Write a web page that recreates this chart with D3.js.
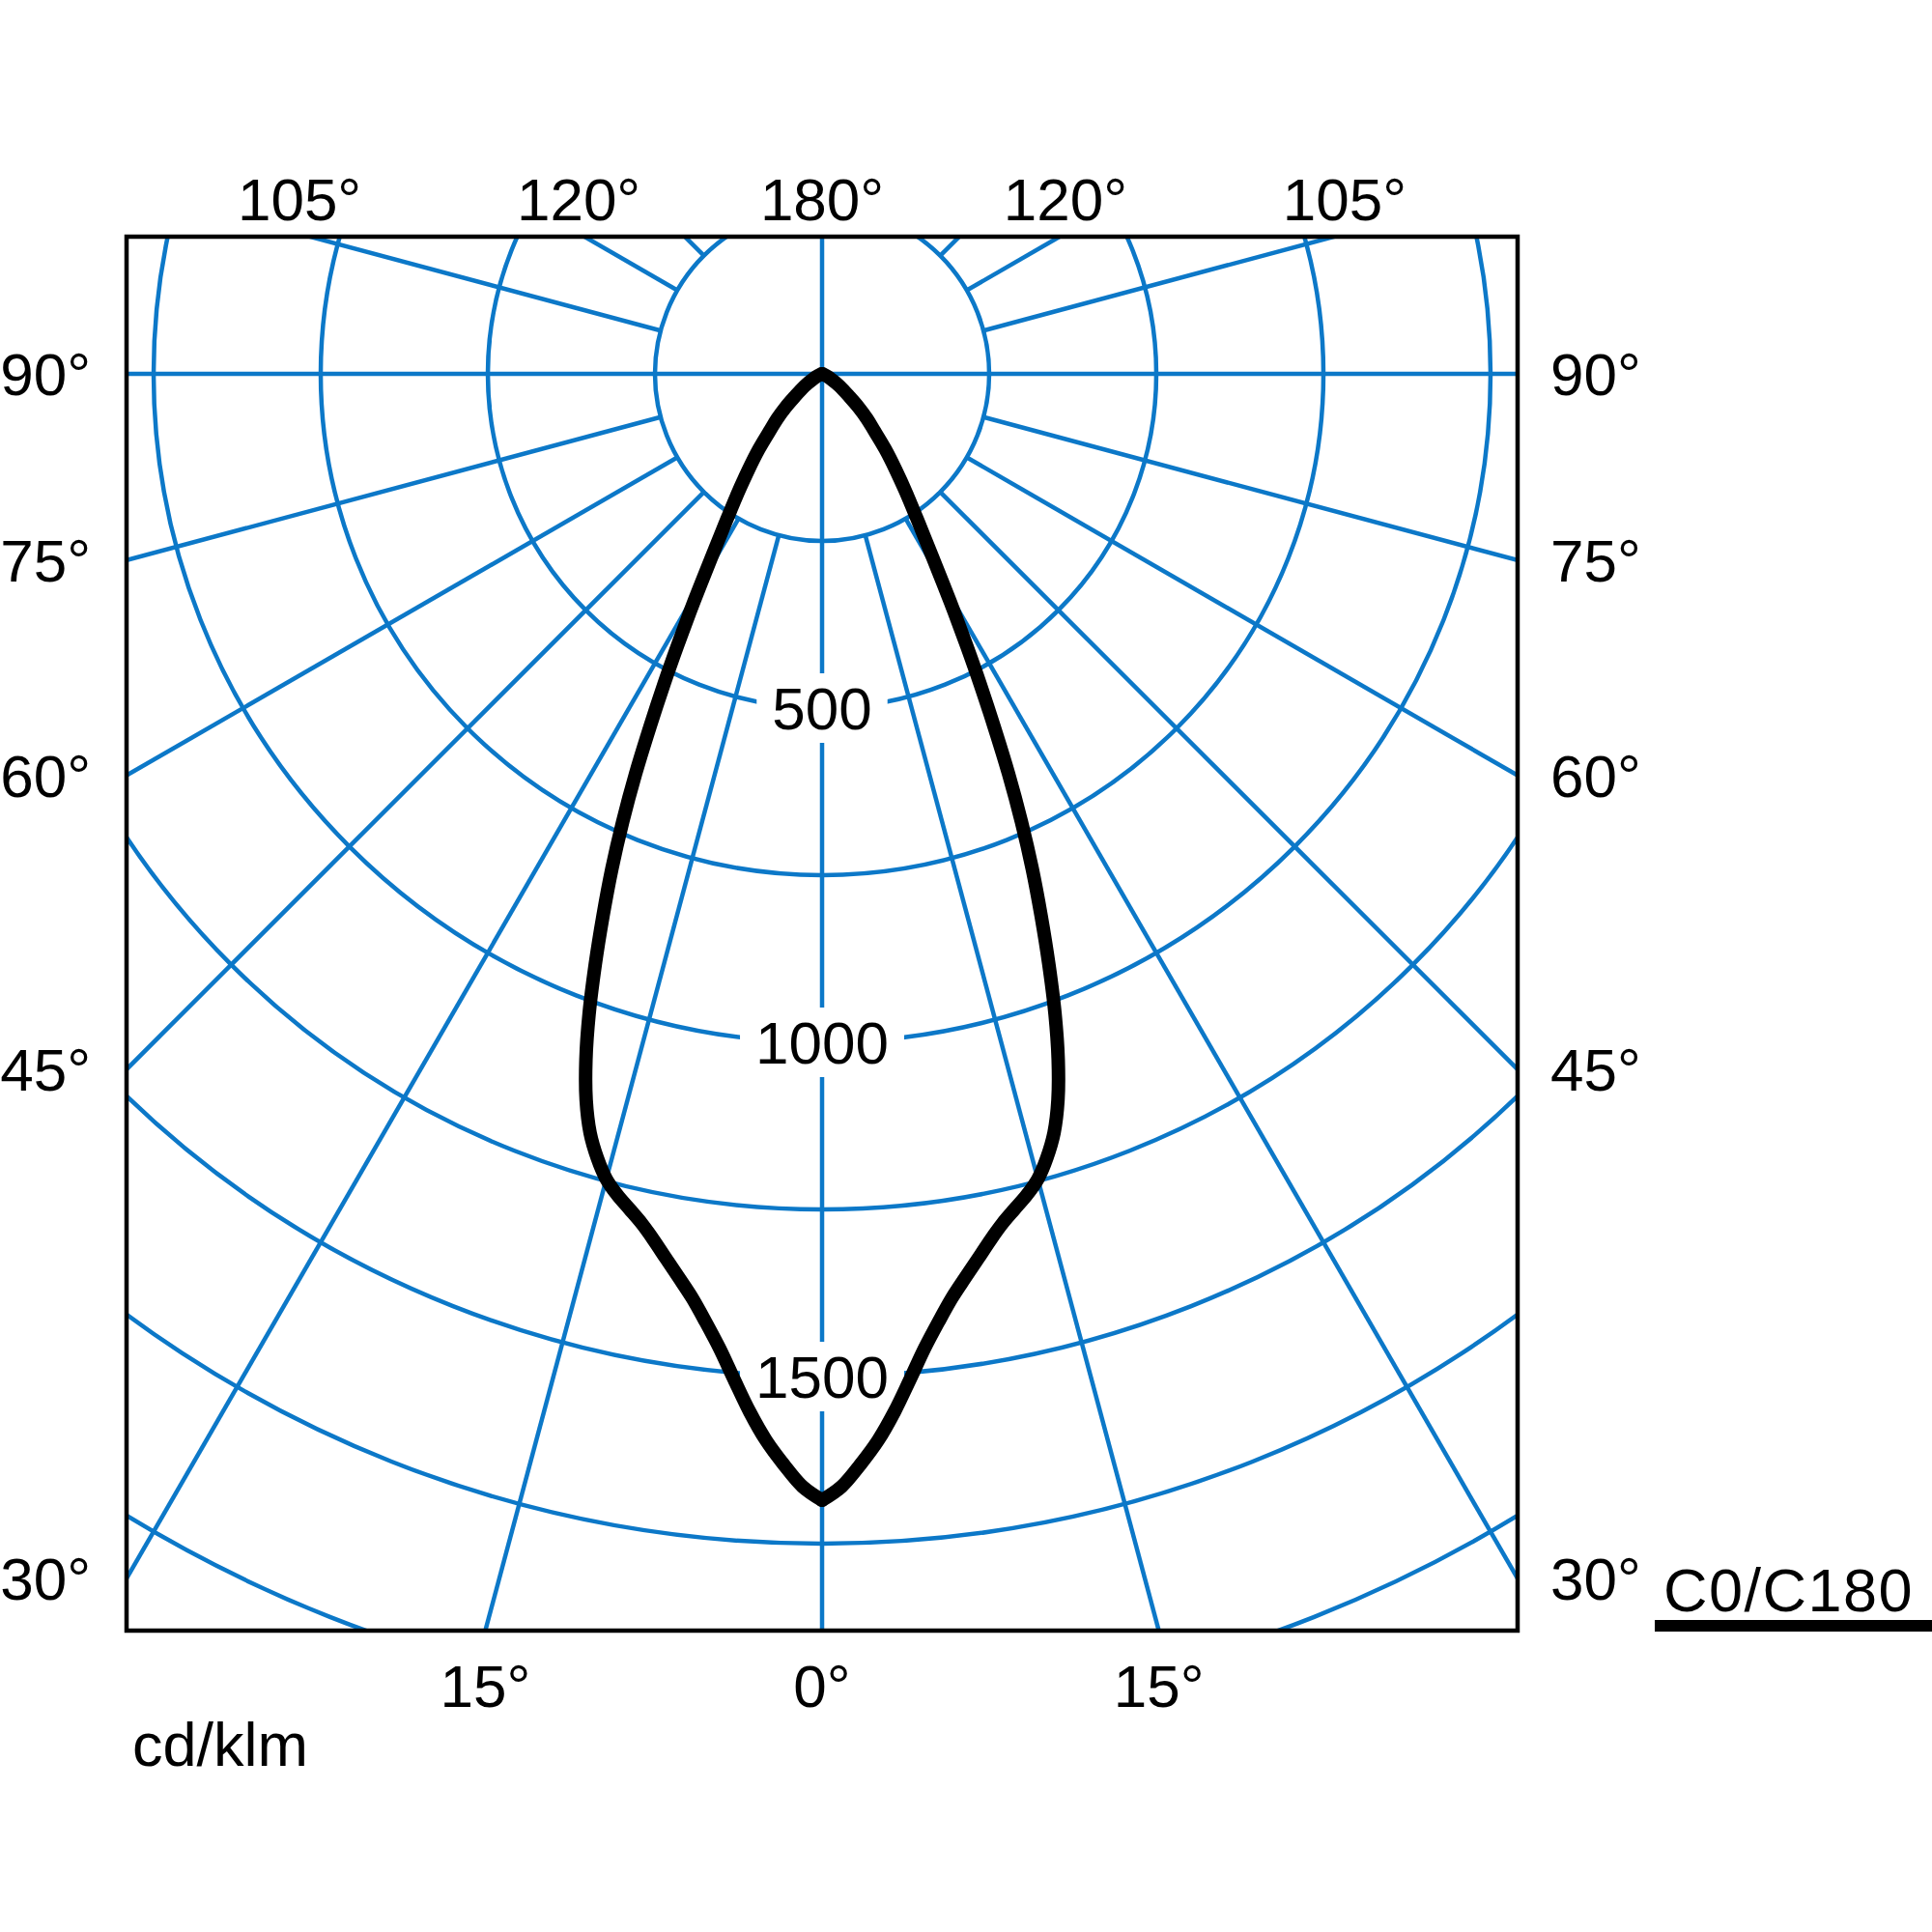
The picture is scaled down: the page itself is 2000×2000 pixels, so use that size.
<!DOCTYPE html>
<html>
<head>
<meta charset="utf-8">
<script src="https://cdn.jsdelivr.net/npm/d3@7"></script>
<style>
  body { margin: 0; background: #fff; }
  text { font-family: "Liberation Sans", Arial, sans-serif; fill: #000; }
</style>
</head>
<body>
<svg id="chart" width="2000" height="2000"></svg>
<script>
// Photometric data (cd/klm against gamma in degrees)
var gammaDeg = [0, 1, 2, 3, 4, 5, 6, 7, 8, 9, 10, 11, 12, 13, 14, 15, 16, 17, 18, 19, 20,
                21, 22, 23, 24, 25, 26, 27, 28, 29, 30, 32.5, 35, 37.5, 40, 42.5, 45, 47.5, 50,
                55, 60, 65, 70, 75];
var c0   = [1685, 1665, 1633, 1598, 1556, 1510, 1466, 1429, 1396, 1369, 1344, 1320, 1299, 1282, 1266, 1247, 1220, 1187, 1142, 1085, 1019,
            947, 875, 805, 733, 660, 587, 521, 461, 408, 362, 277, 223, 181, 147, 116, 95, 74, 54,
            32, 16, 7, 2, 0];
var c180 = [1685, 1665, 1633, 1598, 1556, 1510, 1466, 1429, 1396, 1369, 1344, 1320, 1299, 1282, 1266, 1247, 1220, 1187, 1142, 1085, 1019,
            947, 875, 805, 733, 660, 587, 521, 461, 408, 362, 277, 223, 181, 147, 116, 95, 74, 54,
            32, 16, 7, 2, 0];

// Grid
var ringValues = [250, 500, 750, 1000, 1250, 1500, 1750, 2000];
var ringLabels = [500, 1000, 1500];
var spokeDeg = [15, 30, 45, 60, 75, 105, 120, 135, 150, 165];

// Angle labels around the frame
var sideLabels = [90, 75, 60, 45, 30];
var topLabels = [105, 120, 180];
var bottomLabels = [0, 15];

var unitLabel = "cd/klm";
var legendLabel = "C0/C180";

// Layout
var frame = { left: 131, right: 1571, top: 245, bottom: 1688 };
var cx = 851, cy = 387;
var blue = "#0c78c8";
var fontSize = 62;
// small outward shift of the top labels (they sit a bit wide of the spoke ends)
var topNudge = { 105: 11, 120: 6, 180: 0 };

var svg = d3.select("#chart");

var r = d3.scaleLinear().domain([0, 250]).range([0, 173]);
var rad = function (deg) { return deg * Math.PI / 180; };

// where a spoke at gamma (side +1 right, -1 left) leaves the frame
function exitPoint(g, side) {
    var dx = side * Math.sin(rad(g)), dy = Math.cos(rad(g));
    var ts = [];
    if (dx > 1e-9) ts.push((frame.right - cx) / dx);
    if (dx < -1e-9) ts.push((frame.left - cx) / dx);
    if (dy > 1e-9) ts.push((frame.bottom - cy) / dy);
    if (dy < -1e-9) ts.push((frame.top - cy) / dy);
    var t = d3.min(ts);
    return [cx + t * dx, cy + t * dy];
}

svg.append("clipPath").attr("id", "frameClip")
    .append("rect")
    .attr("x", frame.left).attr("y", frame.top)
    .attr("width", frame.right - frame.left).attr("height", frame.bottom - frame.top);

var grid = svg.append("g").attr("clip-path", "url(#frameClip)")
    .style("stroke", blue).style("stroke-width", 4.5).style("fill", "none");

// circles
grid.selectAll("circle")
    .data(ringValues)
    .enter()
    .append("circle")
    .attr("cx", cx).attr("cy", cy)
    .attr("r", function (d) { return r(d); });

// spokes start at the first ring
var spokes = [];
spokeDeg.forEach(function (g) { spokes.push({ g: g, side: 1 }); spokes.push({ g: g, side: -1 }); });

grid.selectAll("line.spoke")
    .data(spokes)
    .enter()
    .append("line")
    .attr("class", "spoke")
    .attr("x1", function (d) { return cx + d.side * r(ringValues[0]) * Math.sin(rad(d.g)); })
    .attr("y1", function (d) { return cy + r(ringValues[0]) * Math.cos(rad(d.g)); })
    .attr("x2", function (d) { return cx + d.side * r(3000) * Math.sin(rad(d.g)); })
    .attr("y2", function (d) { return cy + r(3000) * Math.cos(rad(d.g)); });

// main axes run right through the centre
grid.append("line").attr("x1", cx).attr("x2", cx).attr("y1", frame.top).attr("y2", frame.bottom);
grid.append("line").attr("x1", frame.left).attr("x2", frame.right).attr("y1", cy).attr("y2", cy);

// ring value labels with a white gap behind them
var ringG = svg.append("g");
ringLabels.forEach(function (v) {
    var y = cy + r(v);
    var bg = ringG.append("rect").style("fill", "#fff");
    var t = ringG.append("text")
        .attr("x", cx).attr("y", y + 22)
        .attr("text-anchor", "middle")
        .style("font-size", fontSize + "px")
        .text(v);
    var bb = t.node().getBBox();
    var padX = 16;
    bg.attr("x", bb.x - padX).attr("y", y - 36)
        .attr("width", bb.width + 2 * padX).attr("height", 72);
});

// light distribution curve, one path per half plane
var curveLine = d3.lineRadial()
    .angle(function (d) { return Math.PI - d.side * rad(d.g); })
    .radius(function (d) { return r(d.v); })
    .curve(d3.curveCatmullRom.alpha(0.5));

var halves = [
    gammaDeg.map(function (g, i) { return { g: g, v: c0[i], side: 1 }; }),
    gammaDeg.map(function (g, i) { return { g: g, v: c180[i], side: -1 }; })
];

svg.append("g")
    .attr("transform", "translate(" + cx + "," + cy + ")")
    .selectAll("path")
    .data(halves)
    .enter()
    .append("path")
    .attr("d", curveLine)
    .style("fill", "none")
    .style("stroke", "#000")
    .style("stroke-width", 14)
    .style("stroke-linecap", "round")
    .style("stroke-linejoin", "round");

// frame
svg.append("rect")
    .attr("x", frame.left).attr("y", frame.top)
    .attr("width", frame.right - frame.left).attr("height", frame.bottom - frame.top)
    .style("fill", "none").style("stroke", "#000").style("stroke-width", 4.5);

// angle labels
var labels = svg.append("g").style("font-size", fontSize + "px");

sideLabels.forEach(function (g) {
    var yl = exitPoint(g, -1)[1], yr = exitPoint(g, 1)[1];
    labels.append("text").attr("x", 94).attr("y", yl + 22).attr("text-anchor", "end").text(g + "°");
    labels.append("text").attr("x", 1605).attr("y", yr + 22).attr("text-anchor", "start").text(g + "°");
});

topLabels.forEach(function (g) {
    var sides = g === 180 ? [1] : [-1, 1];
    sides.forEach(function (s) {
        var x = g === 180 ? cx : exitPoint(g, s)[0] + s * topNudge[g];
        labels.append("text").attr("x", x).attr("y", 228).attr("text-anchor", "middle").text(g + "°");
    });
});

bottomLabels.forEach(function (g) {
    var sides = g === 0 ? [1] : [-1, 1];
    sides.forEach(function (s) {
        var x = g === 0 ? cx : exitPoint(g, s)[0];
        labels.append("text").attr("x", x).attr("y", 1767).attr("text-anchor", "middle").text(g + "°");
    });
});

// unit, slightly cut at the bottom like the source
svg.append("clipPath").attr("id", "unitClip")
    .append("rect").attr("x", 100).attr("y", 1760).attr("width", 300).attr("height", 71);
svg.append("text")
    .attr("clip-path", "url(#unitClip)")
    .attr("x", 137).attr("y", 1828)
    .style("font-size", "63px")
    .text(unitLabel);

// legend
svg.append("text")
    .attr("x", 1722).attr("y", 1668)
    .style("font-size", "63px")
    .style("letter-spacing", "1.5px")
    .text(legendLabel);
svg.append("rect")
    .attr("x", 1713).attr("y", 1677)
    .attr("width", 2000 - 1713).attr("height", 12)
    .style("fill", "#000");
</script>
</body>
</html>
